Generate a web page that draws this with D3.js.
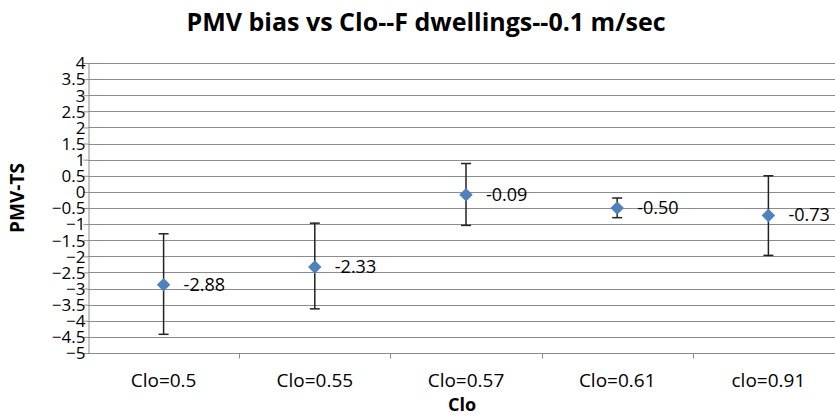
<!DOCTYPE html>
<html><head><meta charset="utf-8">
<script src="https://cdn.jsdelivr.net/npm/d3@7"></script>
<style>body{margin:0;background:#fff}svg{display:block}text{font-family:"Open Sans","Liberation Sans",sans-serif}</style>
</head><body>
<script>
const categories = ["Clo=0.5","Clo=0.55","Clo=0.57","Clo=0.61","clo=0.91"];
const meanValues = [-2.88,-2.33,-0.09,-0.50,-0.73];
const upperValues = [-1.30,-0.97,0.88,-0.19,0.50];
const lowerValues = [-4.42,-3.63,-1.04,-0.80,-1.97];
const valueLabels = ["-2.88","-2.33","-0.09","-0.50","-0.73"];
const yTicks = d3.range(-5, 4.01, 0.5);

const W = 835, H = 417;
const m = {left: 88, top: 63, bottom: 65};
const plotW = 756;
const svg = d3.select("body").append("svg").attr("width", W).attr("height", H);
const x = d3.scaleBand().domain(categories).range([m.left, m.left + plotW]);
const y = d3.scaleLinear().domain([-5, 4]).range([H - m.bottom + 1, m.top]);

// gridlines
svg.append("g").selectAll("line").data(yTicks).join("line")
  .attr("x1", m.left).attr("x2", m.left + plotW)
  .attr("y1", d => Math.round(y(d)) + 0.5).attr("y2", d => Math.round(y(d)) + 0.5)
  .attr("stroke", "#8c8c8c").attr("stroke-width", 1);

// y axis
const yAxis = d3.axisLeft(y).tickValues(yTicks).tickSize(5).tickFormat(d => d3.format("")(d));
const gy = svg.append("g").attr("transform", `translate(${m.left + 0.5},0)`).call(yAxis);
gy.select(".domain").attr("stroke", "#8c8c8c");
gy.selectAll(".tick line").attr("stroke", "#8c8c8c");
gy.selectAll(".tick text").attr("font-size", 17).attr("fill", "#000").attr("x", -3).attr("dy", "0.34em");

// x axis
const gx = svg.append("g").attr("transform", `translate(0,${Math.round(y(-5)) + 0.5})`);
gx.append("line").attr("x1", m.left).attr("x2", m.left + plotW).attr("stroke", "#8c8c8c");
gx.selectAll("line.tk").data(categories.slice(1)).join("line").attr("class","tk")
  .attr("x1", d => Math.round(x(d)) + 0.5).attr("x2", d => Math.round(x(d)) + 0.5)
  .attr("y1", 0).attr("y2", 5).attr("stroke", "#8c8c8c");
gx.selectAll("text").data(categories).join("text")
  .attr("x", d => x(d) + x.bandwidth() / 2).attr("y", 33)
  .attr("text-anchor", "middle").attr("font-size", 19).text(d => d);

// error bars
const g = svg.append("g");
categories.forEach((c, i) => {
  const cx = x(c) + x.bandwidth() / 2;
  g.append("line").attr("x1", cx).attr("x2", cx).attr("y1", y(upperValues[i])).attr("y2", y(lowerValues[i]))
    .attr("stroke", "#222").attr("stroke-width", 1.5);
  [upperValues[i], lowerValues[i]].forEach(v => {
    g.append("line").attr("x1", cx - 5).attr("x2", cx + 5).attr("y1", y(v)).attr("y2", y(v))
      .attr("stroke", "#222").attr("stroke-width", 1.5);
  });
  g.append("path").attr("d", d3.symbol().type(d3.symbolDiamond2).size(115)())
    .attr("transform", `translate(${cx},${y(meanValues[i])})`).attr("fill", "#4F81BD");
  g.append("text").attr("x", cx + 20).attr("y", y(meanValues[i]) + 6)
    .attr("font-size", 18).text(valueLabels[i]);
});

// titles
svg.append("text").attr("x", 426).attr("y", 31).attr("text-anchor", "middle")
  .attr("font-size", 25).attr("font-weight", "bold").text("PMV bias vs Clo--F dwellings--0.1 m/sec");
svg.append("text").attr("transform", `translate(24,198) rotate(-90)`)
  .attr("text-anchor", "middle").attr("font-size", 19).attr("font-weight", "bold").text("PMV-TS");
svg.append("text").attr("x", 462).attr("y", 411).attr("text-anchor", "middle")
  .attr("font-size", 18).attr("font-weight", "bold").text("Clo");
</script>
</body></html>
